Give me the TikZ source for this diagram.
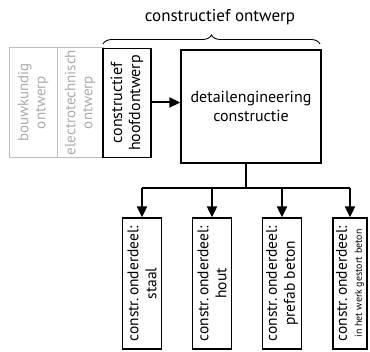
\documentclass[tikz,border=0pt]{standalone}
\usepackage{fontspec}
\setmainfont{PT Sans}
\usetikzlibrary{arrows.meta,decorations.pathreplacing}
\definecolor{lightline}{HTML}{BDBDBD}
\definecolor{lighttext}{HTML}{ABABAB}
\begin{document}
\begin{tikzpicture}[x=1pt,y=-1pt,
  blackbox/.style={draw=black,line width=1.3pt,inner sep=0pt,align=center},
  greybox/.style={draw=lightline,line width=0.9pt,inner sep=0pt,align=center,text=lighttext},
  vbox/.style={rotate=90},
  flow/.style={line width=2pt,-{Triangle[length=11pt,width=10pt]}},
  stem/.style={line width=2pt}]
\useasboundingbox (0,0) rectangle (370,352);

% heading with brace
\node[font=\fontsize{17}{20}\selectfont] (title) at (220,17) {constructief ontwerp};
\draw[line width=0.9pt,decorate,decoration={brace,amplitude=9pt}] (103,44) -- (320,44);

% preceding designs (greyed out)
\node[greybox,vbox,minimum width=110pt,minimum height=48pt,font=\fontsize{15}{17}\selectfont] (bouw) at (33,102.5)
  {bouwkundig\\ontwerp};
\node[greybox,vbox,minimum width=110pt,minimum height=46pt,font=\fontsize{15}{17}\selectfont] (elec) at (80,102.5)
  {electrotechnisch\\ontwerp};

% main structural design
\node[blackbox,vbox,minimum width=109pt,minimum height=48pt,font=\fontsize{16}{18}\selectfont] (hoofd) at (127,103)
  {constructief\\hoofdontwerp};
\node[blackbox,minimum width=140pt,minimum height=113pt,font=\fontsize{16}{19}\selectfont] (detail) at (251,106.5)
  {detailengineering\\constructie};
\draw[flow] (hoofd.south |- 0,102.5) -- (detail.west |- 0,102.5);

% parts
\tikzset{part/.style={blackbox,vbox,minimum width=131pt,minimum height=38.5pt,font=\fontsize{15.5}{18}\selectfont}}
\node[part] (staal) at (142,283.5) {constr.\,onderdeel:\\staal};
\node[part] (hout) at (212,283.5) {constr.\,onderdeel:\\hout};
\node[part] (prefab) at (282,283.5) {constr.\,onderdeel:\\prefab beton};
\node[part,minimum height=34pt,font=\fontsize{15.5}{15}\selectfont] (insitu) at (350,283.5)
  {constr.\,onderdeel:\\\fontsize{10}{11}\selectfont in het werk gestort beton};

% distribution bar
\coordinate (split) at (246,188);
\draw[stem] (246,0 |- detail.south) -- (split);
\draw[stem] (staal.east |- split) -- (insitu.east |- split);
\foreach \n in {staal,hout,prefab,insitu}
  \draw[flow] (\n.east |- split) -- (\n.east);
\end{tikzpicture}
\end{document}
